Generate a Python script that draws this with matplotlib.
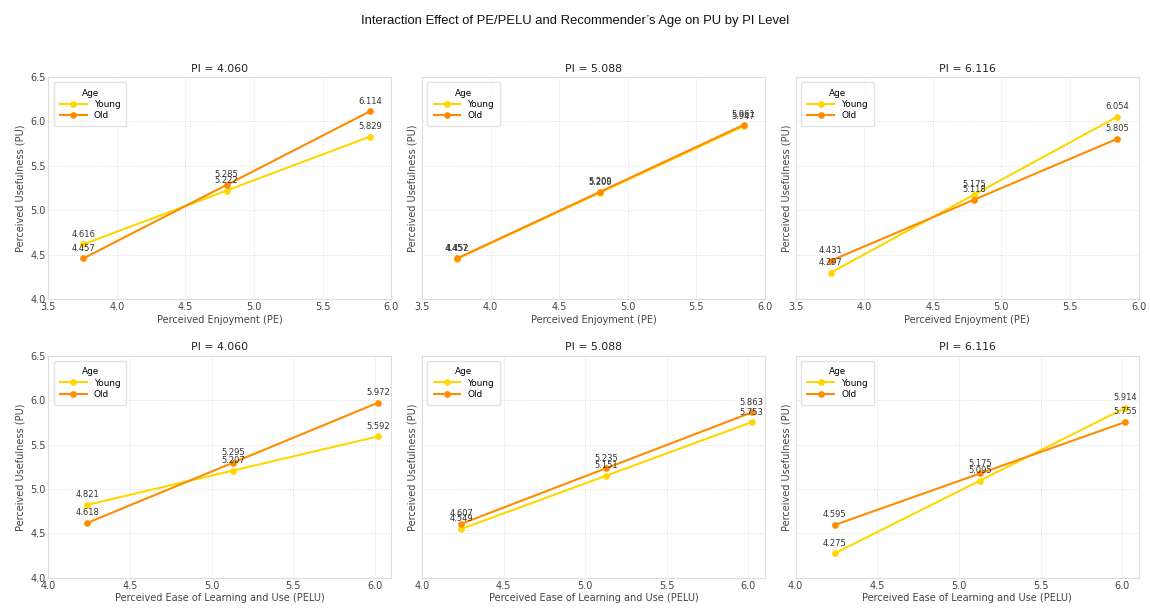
import matplotlib
matplotlib.use("Agg")
import matplotlib.pyplot as plt

# x positions (mean -1SD, mean, mean +1SD)
pe_levels = [3.755, 4.80, 5.845]
pelu_levels = [4.24, 5.13, 6.02]
pi_labels = ["PI = 4.060", "PI = 5.088", "PI = 6.116"]

# PU predictions, one list per PI level
pe_young = [[4.616, 5.222, 5.829], [4.452, 5.200, 5.947], [4.297, 5.175, 6.054]]
pe_old = [[4.457, 5.285, 6.114], [4.457, 5.209, 5.961], [4.431, 5.118, 5.805]]
pelu_young = [[4.821, 5.207, 5.592], [4.549, 5.151, 5.753], [4.275, 5.095, 5.914]]
pelu_old = [[4.618, 5.295, 5.972], [4.607, 5.235, 5.863], [4.595, 5.175, 5.755]]

YOUNG_COLOR = "#FFD700"
OLD_COLOR = "#FF8C00"

plt.rcParams["font.family"] = "DejaVu Sans"
plt.rcParams["axes.edgecolor"] = "#dddddd"
plt.rcParams["axes.linewidth"] = 0.8
plt.rcParams["xtick.color"] = "#444444"
plt.rcParams["ytick.color"] = "#444444"
plt.rcParams["xtick.major.size"] = 0
plt.rcParams["ytick.major.size"] = 0


def draw_panel(ax, x, young, old, title, xlabel):
    ax.plot(x, young, color=YOUNG_COLOR, marker="o", markersize=3.8, lw=1.5, label="Young")
    ax.plot(x, old, color=OLD_COLOR, marker="o", markersize=3.8, lw=1.5, label="Old")
    for xs, ys in ((x, young), (x, old)):
        for xi, yi in zip(xs, ys):
            ax.annotate(f"{yi:.3f}", xy=(xi, yi), xytext=(0, 4),
                        textcoords="offset points", ha="center", va="bottom",
                        fontsize=6, color="#333333")
    ax.set_title(title, fontsize=7.8, color="#222222", pad=4)
    ax.set_xlabel(xlabel, fontsize=7, color="#444444", labelpad=2)
    ax.set_ylabel("Perceived Usefulness (PU)", fontsize=7, color="#444444", labelpad=3)
    ax.tick_params(labelsize=7, pad=2)
    ax.grid(True, linestyle=":", color="#dddddd", linewidth=0.7)
    ax.set_axisbelow(True)
    leg = ax.legend(title="Age", loc="upper left", fontsize=6.4, title_fontsize=6.4,
                    frameon=True, borderpad=0.7, handlelength=3.0, labelspacing=0.25,
                    borderaxespad=0.6)
    leg.get_frame().set_edgecolor("#dddddd")


fig, axes = plt.subplots(2, 3, figsize=(11.5, 6.12), dpi=100, sharey=True)
fig.subplots_adjust(left=0.042, right=0.99, top=0.874, bottom=0.056,
                    wspace=0.09, hspace=0.256)

for i in range(3):
    draw_panel(axes[0, i], pe_levels, pe_young[i], pe_old[i], pi_labels[i],
               "Perceived Enjoyment (PE)")
    axes[0, i].set_xlim(3.5, 6.0)
    axes[0, i].set_xticks([3.5, 4.0, 4.5, 5.0, 5.5, 6.0])

    draw_panel(axes[1, i], pelu_levels, pelu_young[i], pelu_old[i], pi_labels[i],
               "Perceived Ease of Learning and Use (PELU)")
    axes[1, i].set_xlim(4.0, 6.1)
    axes[1, i].set_xticks([4.0, 4.5, 5.0, 5.5, 6.0])

for ax in axes.flat:
    ax.set_ylim(4.0, 6.5)
    ax.set_yticks([4.0, 4.5, 5.0, 5.5, 6.0, 6.5])
    ax.tick_params(axis="y", labelleft=False)
for ax in axes[:, 0]:
    ax.tick_params(axis="y", labelleft=True)

fig.suptitle("Interaction Effect of PE/PELU and Recommender\u2019s Age on PU by PI Level",
             fontsize=9.4, family="Liberation Sans", y=0.975, color="#111111")

fig.savefig("out.png", dpi=100)
